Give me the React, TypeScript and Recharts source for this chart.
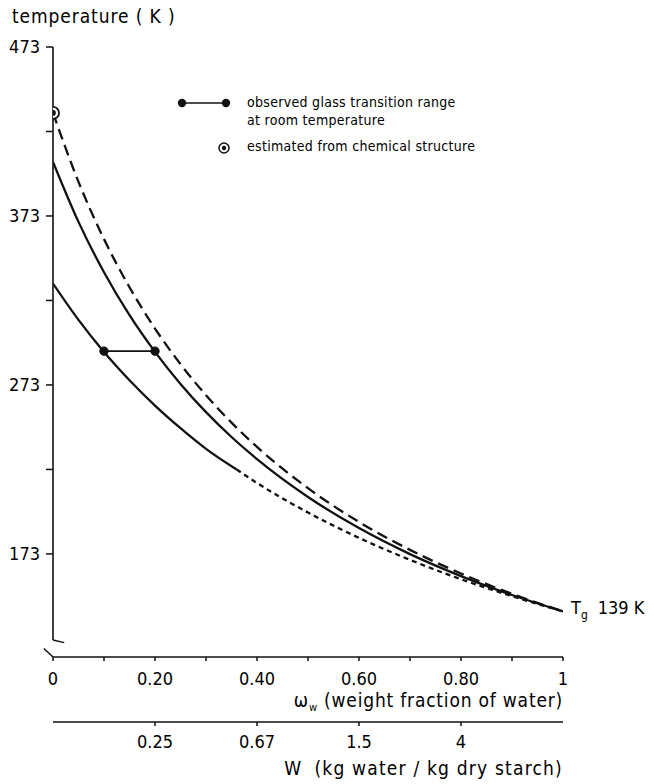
import React from "react";
import {
  ComposedChart,
  Line,
  Scatter,
  XAxis,
  YAxis,
  ReferenceLine,
  ReferenceDot,
  Legend,
  Label,
} from "recharts";

const FONT = "'DejaVu Sans Condensed', 'DejaVu Sans', sans-serif";

// weight fraction of water (x)
const W_GRID = [0, 0.05, 0.1, 0.15, 0.2, 0.25, 0.3, 0.35, 0.4, 0.5, 0.6, 0.7, 0.8, 0.9, 1];
// dashed curve starting at value estimated from chemical structure
const T_ESTIMATED = [434, 393.2, 359.3, 330.8, 306.4, 285.3, 266.9, 250.7, 236.3, 211.9, 191.9, 175.4, 161.4, 149.4, 139];
// upper solid curve
const T_UPPER = [405, 369.5, 339.7, 314.3, 292.6, 273.6, 256.9, 242.2, 229.1, 206.7, 188.3, 172.9, 159.9, 148.7, 139];
// lower curve, solid part
const W_LOW_SOLID = [0, 0.05, 0.1, 0.15, 0.2, 0.25, 0.3, 0.36];
const T_LOW_SOLID = [333, 311.5, 292.5, 275.8, 260.8, 247.4, 235.2, 223];
// lower curve, dotted continuation
const W_LOW_DOT = [0.36, 0.4, 0.5, 0.6, 0.7, 0.8, 0.9, 1];
const T_LOW_DOT = [223, 215, 197.5, 182.5, 169.5, 158, 148, 139];
// observed glass transition range at room temperature
const ROOM_W = [0.1, 0.2];
const ROOM_T = [293, 293];
// estimated from chemical structure
const EST_W = [0];
const EST_T = [434];
// Tg of water
const TG_WATER = 139;

const X_TICKS = [0, 0.1, 0.2, 0.3, 0.4, 0.5, 0.6, 0.7, 0.8, 0.9, 1];
const X_TICK_LABELS = ["0", "", "0.20", "", "0.40", "", "0.60", "", "0.80", "", "1"];
const W_TICKS = [0.2, 0.4, 0.6, 0.8];
const W_TICK_LABELS = ["0.25", "0.67", "1.5", "4"];
const Y_TICKS = [173, 223, 273, 323, 373, 423, 473];
const Y_TICK_LABELS = ["173", "", "273", "", "373", "", "473"];

const zip = (xs: number[], ys: number[]) => xs.map((w, i) => ({ w, t: ys[i] }));

const estimatedData = zip(W_GRID, T_ESTIMATED);
const upperData = zip(W_GRID, T_UPPER);
const lowSolidData = zip(W_LOW_SOLID, T_LOW_SOLID);
const lowDotData = zip(W_LOW_DOT, T_LOW_DOT);
const roomData = zip(ROOM_W, ROOM_T);
const estData = zip(EST_W, EST_T);

const INK = "#111";
const FRAC = "a";
const RATIO = "b";
const CURVE_W = 2.3;

const EstShape = (props: any) => {
  const { cx, cy } = props;
  return (
    <g>
      <circle cx={cx} cy={cy} r={6} fill="#fff" stroke={INK} strokeWidth={1.8} />
      <circle cx={cx} cy={cy} r={2.8} fill={INK} />
    </g>
  );
};

const TempLabel = (props: any) => {
  const { viewBox } = props;
  return (
    <text x={viewBox.x + 12} y={viewBox.y - 24} fontFamily={FONT} fontSize={19} fill="#000" letterSpacing={0.9}>
      temperature ( K )
    </text>
  );
};

const OmegaLabel = (props: any) => {
  const { viewBox } = props;
  return (
    <text x={viewBox.x + viewBox.width} y={viewBox.y + 50} textAnchor="end" fontFamily={FONT} fontSize={19} fill="#000" letterSpacing={0.8}>
      ω<tspan fontSize={11} dy={4}>w</tspan>
      <tspan dy={-4}> (weight fraction of water)</tspan>
    </text>
  );
};

const WLabel = (props: any) => {
  const { viewBox } = props;
  return (
    <text x={viewBox.x + viewBox.width} y={viewBox.y + 53} textAnchor="end" fontFamily={FONT} fontSize={19} fill="#000" letterSpacing={1.2}>
      W<tspan dx={12}>(kg water / kg dry starch)</tspan>
    </text>
  );
};

const TgLabel = (props: any) => {
  const { viewBox } = props;
  const x = viewBox.x + viewBox.width / 2;
  const y = viewBox.y + viewBox.height / 2;
  return (
    <text x={x + 8} y={y + 3} fontFamily={FONT} fontSize={18} fill="#000">
      T<tspan fontSize={12} dy={5}>g</tspan>
      <tspan dy={-5} dx={10}>{TG_WATER + " K"}</tspan>
    </text>
  );
};

const LegendContent = () => (
  <div style={{ fontFamily: FONT, fontSize: 14, letterSpacing: 0.3, color: "#000", position: "relative", width: 320, height: 70 }}>
    <svg width={56} height={14} style={{ position: "absolute", left: 0, top: 4 }}>
      <line x1={6} y1={7} x2={50} y2={7} stroke={INK} strokeWidth={1.6} />
      <circle cx={6} cy={7} r={4.2} fill={INK} />
      <circle cx={50} cy={7} r={4.2} fill={INK} />
    </svg>
    <div style={{ position: "absolute", left: 71, top: 1, lineHeight: "18px", whiteSpace: "nowrap" }}>
      observed glass transition range
      <br />
      at room temperature
    </div>
    <svg width={16} height={16} style={{ position: "absolute", left: 40, top: 48 }}>
      <circle cx={8} cy={8} r={5} fill="#fff" stroke={INK} strokeWidth={1.5} />
      <circle cx={8} cy={8} r={2.2} fill={INK} />
    </svg>
    <div style={{ position: "absolute", left: 71, top: 46, whiteSpace: "nowrap" }}>
      estimated from chemical structure
    </div>
  </div>
);

export default function App() {
  return (
    <div style={{ position: "absolute", left: 0, top: 0, width: 654, height: 784, background: "#fff" }}>
      <ComposedChart width={654} height={784} margin={{ top: 47, right: 91, bottom: 0, left: 0 }}>
        <XAxis
          xAxisId={FRAC}
          dataKey="w"
          type="number"
          domain={[0, 1]}
          ticks={X_TICKS}
          interval={0}
          tickFormatter={(v: number, i: number) => X_TICK_LABELS[i]}
          height={65}
          axisLine={{ stroke: INK, strokeWidth: 1.6 }}
          tickLine={{ stroke: INK, strokeWidth: 1.5 }}
          tickSize={4}
          tickMargin={11}
          tick={{ fill: "#000", fontSize: 18, fontFamily: FONT }}
          allowDataOverflow
        >
          <Label content={OmegaLabel} />
        </XAxis>
        <XAxis
          xAxisId={RATIO}
          dataKey="w"
          type="number"
          domain={[0, 1]}
          ticks={W_TICKS}
          interval={0}
          tickFormatter={(v: number, i: number) => W_TICK_LABELS[i]}
          height={62}
          axisLine={{ stroke: INK, strokeWidth: 1.6 }}
          tickLine={{ stroke: INK, strokeWidth: 1.5 }}
          tickSize={4}
          tickMargin={9}
          tick={{ fill: "#000", fontSize: 18, fontFamily: FONT }}
          allowDataOverflow
        >
          <Label content={WLabel} />
        </XAxis>
        <YAxis
          dataKey="t"
          type="number"
          domain={[112, 473]}
          ticks={Y_TICKS}
          interval={0}
          tickFormatter={(v: number, i: number) => Y_TICK_LABELS[i]}
          width={53}
          axisLine={false}
          tickLine={{ stroke: INK, strokeWidth: 1.5 }}
          tickSize={7}
          tickMargin={6}
          tick={{ fill: "#000", fontSize: 18, fontFamily: FONT }}
          allowDataOverflow
        >
          <Label content={TempLabel} />
        </YAxis>

        {/* y axis line with break marks */}
        <ReferenceLine xAxisId={FRAC} segment={[{ x: 0, y: 122 }, { x: 0, y: 473 }]} stroke={INK} strokeWidth={1.6} ifOverflow="visible" />
        <ReferenceLine xAxisId={FRAC} segment={[{ x: 0, y: 122 }, { x: 0.022, y: 120.5 }]} stroke={INK} strokeWidth={1.5} ifOverflow="visible" />
        <ReferenceLine xAxisId={FRAC} segment={[{ x: -0.018, y: 117 }, { x: 0, y: 112 }]} stroke={INK} strokeWidth={1.5} ifOverflow="visible" />

        <Line xAxisId={FRAC} data={estimatedData} dataKey="t" type="monotone" stroke={INK} strokeWidth={CURVE_W} strokeDasharray="11 6" dot={false} isAnimationActive={false} />
        <Line xAxisId={FRAC} data={upperData} dataKey="t" type="monotone" stroke={INK} strokeWidth={CURVE_W} dot={false} isAnimationActive={false} />
        <Line xAxisId={FRAC} data={lowSolidData} dataKey="t" type="monotone" stroke={INK} strokeWidth={CURVE_W} dot={false} isAnimationActive={false} />
        <Line xAxisId={FRAC} data={lowDotData} dataKey="t" type="monotone" stroke={INK} strokeWidth={CURVE_W} strokeDasharray="5 4" dot={false} isAnimationActive={false} />
        <Line xAxisId={FRAC} data={roomData} dataKey="t" type="linear" stroke={INK} strokeWidth={1.6} dot={{ r: 4.2, fill: INK, stroke: INK, strokeWidth: 1 }} isAnimationActive={false} />
        <Scatter xAxisId={FRAC} data={estData} dataKey="t" shape={EstShape} isAnimationActive={false} />
        <ReferenceDot xAxisId={FRAC} x={1} y={TG_WATER} r={1} fill="none" stroke="none" ifOverflow="visible" label={<TgLabel />} />

        <Legend
          layout="vertical"
          align="center"
          verticalAlign="middle"
          content={LegendContent}
          wrapperStyle={{ left: 176, top: 92, width: 320 }}
        />
      </ComposedChart>
    </div>
  );
}
